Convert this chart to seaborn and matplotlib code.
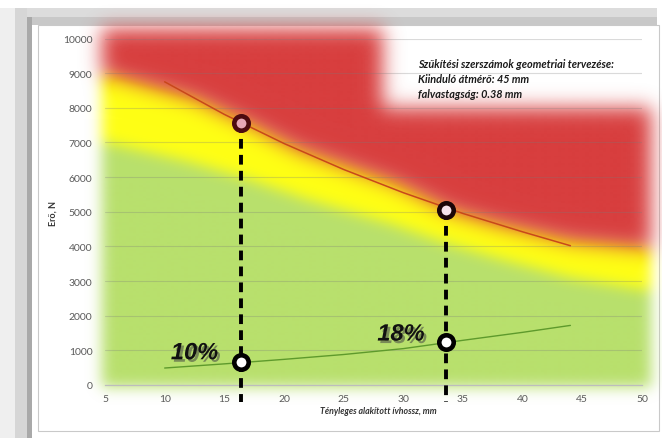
import numpy as np
import pandas as pd
import matplotlib
matplotlib.use("Agg")
import matplotlib.pyplot as plt
import matplotlib.patheffects as pe
from matplotlib.patches import Rectangle
import seaborn as sns

# ---------------- data ----------------
trend_x = [10, 15, 20, 25, 30, 35, 40, 44]
force_upper = [8750, 7810, 6970, 6220, 5550, 4950, 4420, 4020]
force_lower = [490, 610, 740, 880, 1050, 1290, 1520, 1720]

mark_x = [16.4, 33.6]
mark_upper = [7560, 5050]
mark_lower = [655, 1232]
pct_labels = ["10%", "18%"]
pct_x = [12.5, 29.8]
pct_y = [930, 1470]

# zone boundaries (blurred background zones)
red_bottom_x = [4.5, 12.4, 16.5, 21.3, 29.3, 33.9, 38.0, 44.0, 51.0]
red_bottom = [9000, 8250, 7600, 6750, 5800, 5000, 4600, 4130, 3900]
green_top_x = [4.5, 12.0, 16.5, 22.0, 29.0, 33.6, 38.0, 44.0, 51.0]
green_top = [7050, 6450, 6000, 5350, 4650, 4100, 3650, 3100, 2700]
notch_x = 28.3
red_top_left = 10300
red_top_right = 8000
zone_left, zone_right, zone_bottom = 4.7, 50.8, -80

xticks = [5, 10, 15, 20, 25, 30, 35, 40, 45, 50]
yticks = [0, 1000, 2000, 3000, 4000, 5000, 6000, 7000, 8000, 9000, 10000]

note_lines = ["Szűkítési szerszámok geometriai tervezése:",
              "Kiinduló átmérő: 45 mm",
              "falvastagság: 0.38 mm"]

# ---------------- figure ----------------
sns.set_style("white")
W, H = 662, 439
fig = plt.figure(figsize=(W / 100, H / 100), dpi=100)
fig.patch.set_facecolor("white")

def fr(x0, y0, x1, y1, color, **kw):
    fig.patches.append(Rectangle((x0 / W, 1 - y1 / H), (x1 - x0) / W, (y1 - y0) / H,
                                 transform=fig.transFigure, facecolor=color,
                                 edgecolor=kw.get("ec", "none"), lw=kw.get("lw", 0),
                                 zorder=-10))

# decorative outer frame
fr(15, 9, 657, 18, "#dcdcdc")
fr(15, 18, 657, 26, "#c8c8c8")
fr(0, 9, 15, 439, "#efefef")
fr(15, 9, 27, 439, "#d6d6d6")
fr(27, 18, 32, 439, "#a9a9a9")
fr(32, 26, 659, 436, "white")
fr(38, 26, 659, 432, "white", ec="#c9c9c9", lw=0.8)

ax_l, ax_r, ax_t, ax_b = 105, 642, 39.5, 386
ax = fig.add_axes([ax_l / W, 1 - ax_b / H, (ax_r - ax_l) / W, (ax_b - ax_t) / H])
ax.set_facecolor("none")
ax.set_xlim(5, 50)
ax.set_ylim(0, 10000)

# ---------------- blurred zones image ----------------
ux = 45 / (ax_r - ax_l)          # data units per pixel (x)
uy = 10000 / (ax_b - ax_t)       # data units per pixel (y)
gx = np.arange(1.0, 54.5, ux)
gy = np.arange(-1500, 11700, uy)
XX, YY = np.meshgrid(gx, gy)
rb = np.interp(gx, red_bottom_x, red_bottom)[None, :]
gt = np.interp(gx, green_top_x, green_top)[None, :]
rt = np.where(gx < notch_x, red_top_left, red_top_right)[None, :]
inside = (XX >= zone_left) & (XX <= zone_right) & (YY >= zone_bottom)
G = inside & (YY < gt)
Yz = inside & (YY >= gt) & (YY < rb)
R = inside & (YY >= rb) & (YY <= rt)

def gblur(a, s):
    r = int(3 * s) + 1
    k = np.exp(-0.5 * (np.arange(-r, r + 1) / s) ** 2)
    k /= k.sum()
    a = np.apply_along_axis(lambda v: np.convolve(v, k, mode="same"), 0, a)
    a = np.apply_along_axis(lambda v: np.convolve(v, k, mode="same"), 1, a)
    return a

s = 7.0
wG, wY, wR = gblur(G.astype(float), s), gblur(Yz.astype(float), s), gblur(R.astype(float), s * 1.4)
tot = wG + wY + wR
alpha = np.clip(tot, 0, 1)
den = np.where(tot > 1e-6, tot, 1.0)
cG = np.array([184, 224, 108]) / 255
cY = np.array([255, 255, 20]) / 255
cR = np.array([216, 62, 62]) / 255
rgb = (wG[..., None] * cG + wY[..., None] * cY + wR[..., None] * cR) / den[..., None]
img = np.dstack([np.clip(rgb, 0, 1), alpha])
ax.imshow(img, extent=[gx[0], gx[-1], gy[0], gy[-1]], origin="lower", aspect="auto",
          interpolation="bilinear", zorder=0, clip_on=False)
ax.set_xlim(5, 50)
ax.set_ylim(0, 10000)

# gridlines
ax.set_yticks(yticks)
ax.set_xticks(xticks)
ax.yaxis.grid(True, color="#7a7a7a", alpha=0.28, lw=0.8, zorder=1)
ax.xaxis.grid(False)
ax.set_axisbelow(False)

# ---------------- trend lines ----------------
df = pd.DataFrame({"x": trend_x, "upper": force_upper, "lower": force_lower})
sns.lineplot(data=df, x="x", y="upper", ax=ax, color="#c8481a", lw=1.1, zorder=3)
sns.lineplot(data=df, x="x", y="lower", ax=ax, color="#5e9a2c", lw=1.0, zorder=3)

# dashed verticals
for xv, yv in zip(mark_x, mark_upper):
    ax.plot([xv, xv], [yv, -480], color="black", lw=2.8, ls=(0, (2.5, 1.6)),
            zorder=4, clip_on=False, solid_capstyle="butt", dash_capstyle="butt")

# markers
face_up = ["#e7a6b6", "#f6e2ea"]
edge_up = ["#4d0a10", "#1c0608"]
for i in range(2):
    sns.scatterplot(x=[mark_x[i]], y=[mark_upper[i]], ax=ax, s=108, color=face_up[i],
                    edgecolor=edge_up[i], linewidth=3.3, zorder=5, clip_on=False)
    sns.scatterplot(x=[mark_x[i]], y=[mark_lower[i]], ax=ax, s=108, color="white",
                    edgecolor="black", linewidth=3.3, zorder=5, clip_on=False)

# percentage labels
for lx, ly, t in zip(pct_x, pct_y, pct_labels):
    ax.text(lx, ly, t, ha="center", va="center", fontsize=17, fontweight="bold",
            fontstyle="italic", family="Liberation Sans", color="#111111", zorder=6,
            path_effects=[pe.SimplePatchShadow(offset=(1.8, -1.8), shadow_rgbFace="#444444", alpha=0.55),
                          pe.Normal()])

# ---------------- axes styling ----------------
for sp in ["top", "right", "left"]:
    ax.spines[sp].set_visible(False)
ax.spines["bottom"].set_color("#bdbdbd")
ax.spines["bottom"].set_linewidth(0.9)
ax.spines["bottom"].set_zorder(2)
ax.tick_params(axis="x", length=3.5, width=0.8, color="#bdbdbd", pad=3,
               labelsize=7.5, labelcolor="#5a5a5a")
ax.tick_params(axis="y", length=0, pad=9, labelsize=7.5, labelcolor="#5a5a5a")
ax.set_xticklabels([str(v) for v in xticks], family="Lato")
ax.set_yticklabels([str(v) for v in yticks], family="Lato")
ax.set_xlabel("")
ax.set_ylabel("")

fig.text(378 / W, 1 - 412 / H, "Tényleges alakított ívhossz, mm", ha="center", va="center",
         fontsize=6.3, fontweight="bold", fontstyle="italic", family="Lato", color="#333333")
fig.text(53 / W, 1 - 213 / H, "Erő, N", ha="center", va="center", rotation=90,
         fontsize=6.5, fontweight="bold", family="Lato", color="#333333")

for i, line in enumerate(note_lines):
    fig.text(418 / W, 1 - (64 + 15.5 * i) / H, line, ha="left", va="center",
             fontsize=7.8, fontweight="bold", fontstyle="italic", family="Lato", color="#1a1a1a")

fig.savefig("out.png", dpi=100, facecolor=fig.get_facecolor())
